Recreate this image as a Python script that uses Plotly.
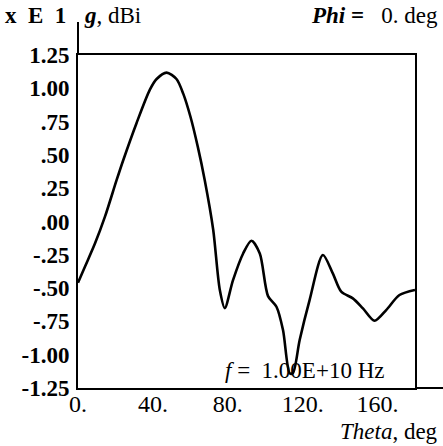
import plotly.graph_objects as go

theta = [0, 3.7, 9.1, 14.4, 20.6, 24.2, 31.3, 38.4, 42.0, 47.3, 52.6, 56.2, 60.0, 64.0,
         67.7, 72.2, 75.7, 78.4, 82.8, 88.2, 92.6, 97.1, 101.5, 106.0, 109.5, 113.1, 114.8,
         118.4, 123.7, 130.8, 136.1, 140.6, 146.8, 152.2, 158.4, 164.6, 171.7, 180]
gain = [-0.46, -0.34, -0.164, 0.036, 0.31, 0.462, 0.74, 0.99, 1.07, 1.118, 1.07, 0.96,
        0.79, 0.56, 0.31, -0.06, -0.51, -0.65, -0.44, -0.24, -0.144, -0.24, -0.56, -0.64,
        -0.815, -1.14, -1.138, -0.89, -0.59, -0.252, -0.39, -0.527, -0.577, -0.652, -0.745,
        -0.665, -0.552, -0.514]

x_ticks = [0, 40, 80, 120, 160]
x_tick_text = ["0.", "40.", "80.", "120.", "160."]
y_ticks = [1.25, 1.0, 0.75, 0.5, 0.25, 0.0, -0.25, -0.5, -0.75, -1.0, -1.25]
y_tick_text = ["1.25", "1.00", ".75", ".50", ".25", ".00", "-.25", "-.50", "-.75", "-1.00", "-1.25"]

FONT = "Liberation Serif"
W, H = 443, 446
L, R, T, B = 78, 415, 55, 388

fig = go.Figure()
fig.add_trace(go.Scatter(x=theta, y=gain, mode="lines",
                         line=dict(color="black", width=2.6, shape="spline", smoothing=0.8),
                         hoverinfo="skip", showlegend=False))

pw, ph = R - L, B - T
def px(x):
    return (x - L) / pw
def py(y):
    return (B - y) / ph

fig.update_layout(
    width=W, height=H,
    margin=dict(l=L, r=W - R, t=T, b=H - B, pad=0),
    paper_bgcolor="white", plot_bgcolor="white",
    font=dict(family=FONT, size=23, color="black"),
    xaxis=dict(range=[0, 180], tickvals=x_ticks, ticktext=x_tick_text,
               showgrid=False, zeroline=False, showline=True, linecolor="black", linewidth=2,
               mirror=True, ticks="", ticklabelstandoff=-7,
               tickfont=dict(family=FONT, size=24, color="black")),
    yaxis=dict(range=[-1.25, 1.25], tickvals=y_ticks, ticktext=y_tick_text,
               showgrid=False, zeroline=False, showline=True, linecolor="black", linewidth=2,
               mirror=True, ticks="", ticklabelstandoff=2,
               tickfont=dict(family=FONT, size=23, color="black", weight="bold")),
    shapes=[
        dict(type="line", xref="paper", yref="paper", x0=0, x1=0, y0=1, y1=py(22),
             line=dict(color="black", width=2)),
        dict(type="line", xref="paper", yref="paper", x0=1, x1=px(443), y0=0, y1=0,
             line=dict(color="black", width=2)),
    ],
    annotations=[
        dict(xref="paper", yref="paper", x=px(3), y=py(15), xanchor="left", yanchor="middle",
             text="<b>x  E  1</b>", showarrow=False, font=dict(size=23)),
        dict(xref="paper", yref="paper", x=px(82), y=py(15), xanchor="left", yanchor="middle",
             text="<i><b>g</b></i>, dBi", showarrow=False, font=dict(size=23)),
        dict(xref="paper", yref="paper", x=px(440), y=py(15), xanchor="right", yanchor="middle",
             text="<b><i>Phi</i> =</b>   0. deg", showarrow=False, font=dict(size=23)),
        dict(xref="paper", yref="paper", x=px(440), y=py(432), xanchor="right", yanchor="middle",
             text="<i>Theta</i>, deg", showarrow=False, font=dict(size=23)),
        dict(xref="paper", yref="paper", x=px(223), y=py(370), xanchor="left", yanchor="middle",
             text="<i>f</i> =  1.00E+10 Hz", showarrow=False, font=dict(size=23)),
    ],
)

fig.write_html("out.html", config={"displayModeBar": False},
               post_script="document.body.style.margin='0';document.body.style.overflow='hidden';")
